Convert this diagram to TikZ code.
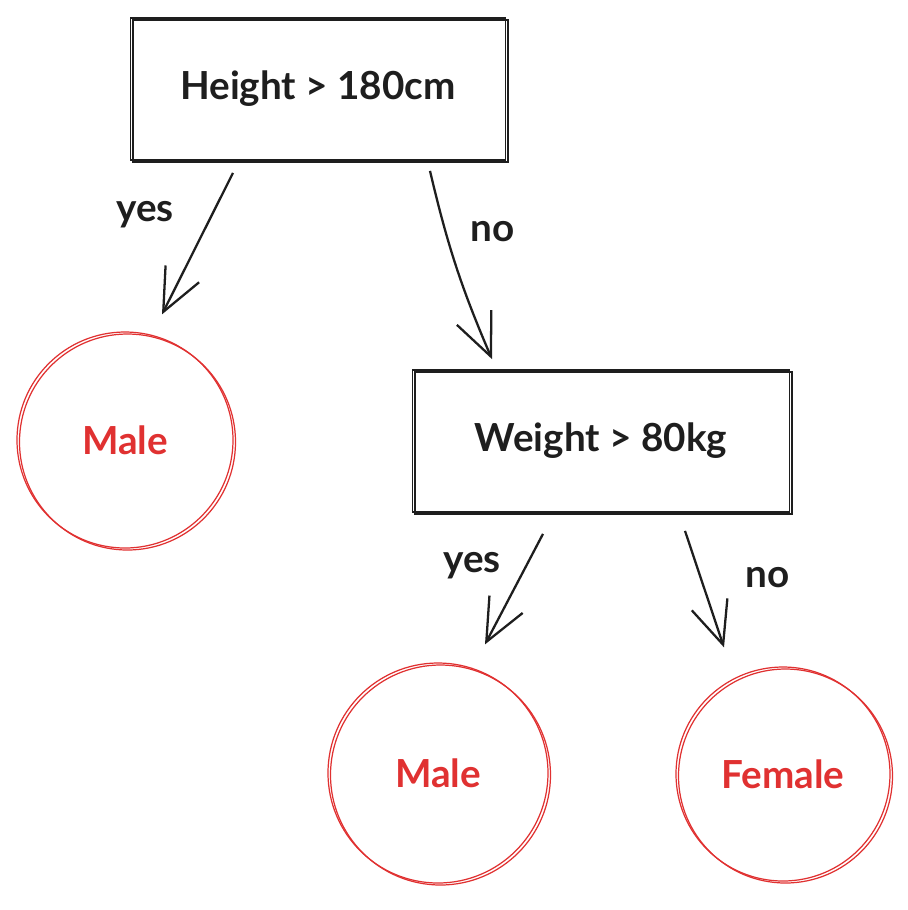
\documentclass[tikz,border=0pt]{standalone}
\usepackage{fontspec}
\setmainfont{Lato}
\usetikzlibrary{arrows.meta,positioning}
\definecolor{ink}{HTML}{1E1E1E}
\definecolor{redink}{HTML}{E03131}
\begin{document}
\begin{tikzpicture}[
    sketch/.style={postaction={draw, transform canvas={shift={(0.05,-0.04)}}}},
    test/.style={rectangle, draw=ink, line width=1pt, minimum width=7.5cm, minimum height=2.84cm, text centered, text=ink, font=\fontsize{22}{26}\selectfont\bfseries, sketch},
    leaf/.style={circle, draw=redink, line width=0.7pt, inner sep=0pt, text=redink, font=\fontsize{22}{26}\selectfont\bfseries, sketch},
    arr/.style={draw=ink, line width=1.3pt, -{Straight Barb[length=0.85cm, width=0.75cm]}},
    answer/.style={text=ink, font=\fontsize{22}{26}\selectfont\bfseries}
]
    \useasboundingbox (0,0) rectangle (18.16,-18.2);
    % Root test
    \node[test] (height) at (6.36,-1.78) {Height > 180cm};
    % Left leaf
    \node[leaf, minimum size=4.32cm] (male1) at (2.5,-8.8) {Male};
    % Second test
    \node[test, minimum width=7.54cm] (weight) at (12.02,-8.82) {Weight > 80kg};
    % Bottom leaves
    \node[leaf, minimum size=4.4cm] (male2) at (8.76,-15.46) {Male};
    \node[leaf, minimum size=4.28cm] (female) at (15.66,-15.48) {Female};

    % Connectors
    \draw[arr] ([xshift=-1.7cm, yshift=-0.24cm]height.south) -- ([xshift=0.74cm, yshift=0.34cm]male1.north);
    \draw[arr] ([xshift=2.24cm, yshift=-0.2cm]height.south) to[bend right=5] ([xshift=-2.18cm, yshift=0.2cm]weight.north);
    \draw[arr] ([xshift=-1.16cm, yshift=-0.42cm]weight.south) -- ([xshift=0.94cm, yshift=0.36cm]male2.north);
    \draw[arr] ([xshift=1.68cm, yshift=-0.36cm]weight.south) -- ([xshift=-1.18cm, yshift=0.38cm]female.north);

    % Answers
    \node[answer] (yes1) at (2.9,-4.3) {yes};
    \node[answer] (no1) at (9.86,-4.64) {no};
    \node[answer] (yes2) at (9.44,-11.32) {yes};
    \node[answer] (no2) at (15.36,-11.56) {no};
\end{tikzpicture}
\end{document}
